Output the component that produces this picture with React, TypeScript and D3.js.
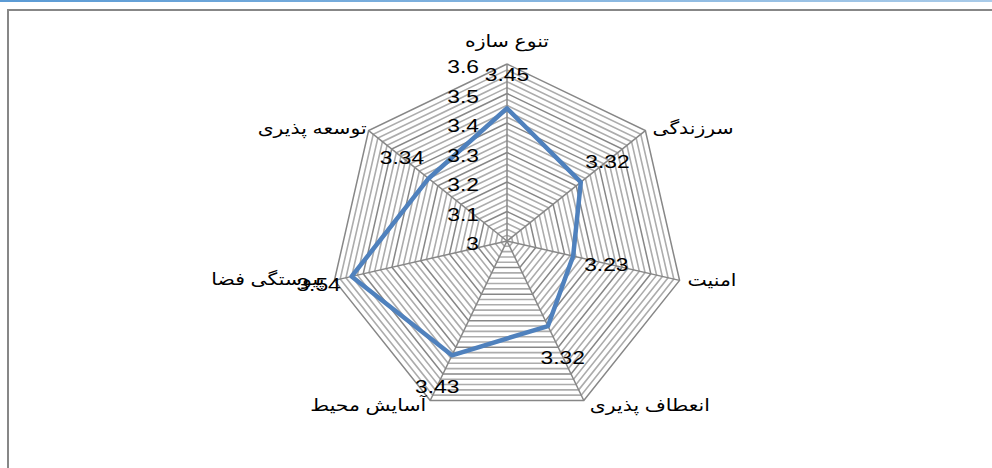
import React from "react";
import * as d3 from "d3";

const categories = ["تنوع سازه", "سرزندگی", "امنیت", "انعطاف پذیری", "آسایش محیط", "پیوستگی فضا", "توسعه پذیری"];
const values = [3.45, 3.32, 3.23, 3.32, 3.43, 3.54, 3.34];
const tickValues = [3, 3.1, 3.2, 3.3, 3.4, 3.5, 3.6];
const tickLabels = ["3", "3.1", "3.2", "3.3", "3.4", "3.5", "3.6"];
const minorStep = 0.02;

const W = 992, H = 468;
const cx = 507, cy = 241, R = 177;
const FONT = "'Liberation Sans', Arial, 'DejaVu Sans', sans-serif";
const SX = 1.2;

function T(props: { x: number; y: number; anchor: string; size: number; children: React.ReactNode }) {
  return (
    <text
      transform={`translate(${props.x},${props.y}) scale(${SX},1)`}
      textAnchor={props.anchor}
      fontFamily={FONT}
      fontSize={props.size}
      fill="#000"
    >
      {props.children}
    </text>
  );
}

export default function App() {
  const r = d3.scaleLinear().domain([3, 3.6]).range([0, R]);
  const n = categories.length;
  const ang = (i: number) => (i * 2 * Math.PI) / n;
  const pt = (i: number, v: number): [number, number] => [
    cx + Math.sin(ang(i)) * r(v),
    cy - Math.cos(ang(i)) * r(v),
  ];
  const ring = (v: number) => {
    const pts = d3.range(n).map((i) => pt(i, v));
    return d3.line()(pts.concat([pts[0]])) as string;
  };
  const minorLevels = d3.range(3 + minorStep, 3.6 - 1e-9, minorStep).filter(
    (v) => Math.abs(Math.round(v * 10) - v * 10) > 1e-6
  );
  const seriesPath = d3.line().curve(d3.curveLinearClosed)(values.map((v, i) => pt(i, v))) as string;

  // label anchor offsets relative to the outer vertex of each axis
  const labelOff: { dx: number; dy: number; anchor: string }[] = [
    { dx: 0, dy: -17, anchor: "middle" },
    { dx: 7, dy: 3, anchor: "start" },
    { dx: 8, dy: 6, anchor: "start" },
    { dx: 6, dy: 11, anchor: "start" },
    { dx: -4, dy: 11, anchor: "end" },
    { dx: -10, dy: 5, anchor: "end" },
    { dx: -2, dy: 3, anchor: "end" },
  ];

  return (
    <div style={{ position: "fixed", left: 0, top: 0 }}>
      <svg width={W} height={H} style={{ display: "block" }}>
        <defs>
          <linearGradient id="topbar" x1="0" x2="1" y1="0" y2="0">
            <stop offset="0" stopColor="#5b9bd5" />
            <stop offset="1" stopColor="#a9cbe9" />
          </linearGradient>
        </defs>
        <rect x={0} y={0} width={W} height={H} fill="#fff" />
        <rect x={0} y={0} width={W} height={2} fill="url(#topbar)" />
        <rect x={8} y={10} width={1100} height={600} fill="#fff" stroke="#878787" strokeWidth={2} />

        {minorLevels.map((v, k) => (
          <path key={"m" + k} d={ring(v)} fill="none" stroke="#acacac" strokeWidth={1.6} />
        ))}
        {tickValues.slice(1).map((v, k) => (
          <path key={"M" + k} d={ring(v)} fill="none" stroke="#878787" strokeWidth={1.5} />
        ))}
        {d3.range(n).map((i) => {
          const [x, y] = pt(i, 3.6);
          return <line key={"s" + i} x1={cx} y1={cy} x2={x} y2={y} stroke="#878787" strokeWidth={1.5} />;
        })}

        <path d={seriesPath} fill="none" stroke="#4f81bd" strokeWidth={4.5} strokeLinejoin="round" />

        {tickValues.map((v, k) => (
          <T key={"t" + k} x={479} y={cy - r(v) + 9} anchor="end" size={19}>
            {tickLabels[k]}
          </T>
        ))}

        {values.map((v, i) => {
          const off = 34;
          const [px, py] = pt(i, v);
          const x = px + Math.sin(ang(i)) * off;
          const y = py - Math.cos(ang(i)) * off;
          return (
            <T key={"d" + i} x={x} y={y + 7} anchor="middle" size={19}>
              {v.toFixed(2)}
            </T>
          );
        })}

        {categories.map((c, i) => {
          const [vx, vy] = pt(i, 3.6);
          const o = labelOff[i];
          return (
            <T key={"c" + i} x={vx + o.dx} y={vy + o.dy} anchor={o.anchor} size={17}>
              {c}
            </T>
          );
        })}
      </svg>
    </div>
  );
}
